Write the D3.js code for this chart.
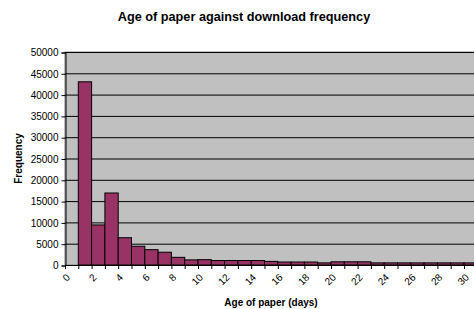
<!DOCTYPE html>
<html lang="en">
<head>
  <meta charset="utf-8">
  <title>Age of paper against download frequency</title>
  <style>
    body { margin: 0; background: #fff; }
    text { font-family: "Liberation Sans", Arial, sans-serif; }
  </style>
  <script src="https://d3js.org/d3.v7.min.js"></script>
</head>
<body>
  <div id="chart"></div>
  <script>
    // age of paper in days (one category per day)
    const ages = d3.range(0, 31);
    // download frequency per age
    const frequency = [0, 43000, 9400, 16900, 6400, 4400, 3600, 3000, 1800, 1200,
      1250, 1050, 1050, 1050, 1050, 850, 700, 700, 700, 500,
      750, 750, 750, 500, 500, 500, 500, 500, 500, 500, 500];
    const yTicks = d3.range(0, 50001, 5000);
    const xLabels = d3.range(0, 31, 2);

    const width = 474, height = 309;
    const plotLeft = 65, plotTop = 52, plotBottom = 265;
    const step = 13.3;

    const svg = d3.select('#chart').append('svg')
      .attr('width', width)
      .attr('height', height);

    const x = d3.scaleBand()
      .domain(ages)
      .range([plotLeft, plotLeft + step * ages.length])
      .padding(0);

    const y = d3.scaleLinear()
      .domain([0, 50000])
      .range([plotBottom, plotTop]);

    // plot area
    svg.append('rect')
      .attr('x', plotLeft).attr('y', plotTop)
      .attr('width', x.range()[1] - plotLeft)
      .attr('height', plotBottom - plotTop)
      .attr('fill', '#c0c0c0')
      .attr('stroke', '#808080');

    // gridlines
    svg.append('g')
      .selectAll('line')
      .data(yTicks.filter(d => d > 0))
      .enter().append('line')
      .attr('x1', plotLeft).attr('x2', x.range()[1])
      .attr('y1', d => y(d) + 0.5).attr('y2', d => y(d) + 0.5)
      .attr('stroke', '#000')
      .attr('stroke-width', 1);

    // bars
    svg.append('g')
      .selectAll('rect')
      .data(ages.filter((d, i) => frequency[i] > 0))
      .enter().append('rect')
      .attr('x', d => x(d))
      .attr('y', d => y(frequency[d]))
      .attr('width', x.bandwidth())
      .attr('height', d => plotBottom - y(frequency[d]))
      .attr('fill', '#993366')
      .attr('stroke', '#000')
      .attr('stroke-width', 1);

    // y axis
    const yAxis = d3.axisLeft(y)
      .tickValues(yTicks)
      .tickFormat(d3.format('d'))
      .tickSize(4)
      .tickPadding(3);
    const gy = svg.append('g')
      .attr('transform', 'translate(' + (plotLeft + 0.5) + ',0.5)')
      .call(yAxis);
    gy.select('.domain').attr('stroke', '#000');
    gy.selectAll('text')
      .attr('font-size', 10)
      .attr('font-family', '"Liberation Sans", Arial, sans-serif')
      .attr('fill', '#000');

    // x axis line + ticks at category boundaries
    const gx = svg.append('g');
    gx.append('line')
      .attr('x1', plotLeft).attr('x2', x.range()[1])
      .attr('y1', plotBottom + 0.5).attr('y2', plotBottom + 0.5)
      .attr('stroke', '#000');
    gx.selectAll('line.tick')
      .data(ages)
      .enter().append('line')
      .attr('class', 'tick')
      .attr('x1', d => x(d) + 0.5).attr('x2', d => x(d) + 0.5)
      .attr('y1', plotBottom).attr('y2', plotBottom + 4)
      .attr('stroke', '#000');

    // rotated category labels
    gx.selectAll('text')
      .data(xLabels)
      .enter().append('text')
      .attr('transform', d => 'translate(' + (x(d) + x.bandwidth() / 2 - 6) + ',' + (plotBottom + 8) + ') rotate(-45)')
      .attr('text-anchor', 'end')
      .attr('dy', '0.7em')
      .attr('font-size', 10)
      .text(d => d);

    // title and axis titles
    svg.append('text')
      .attr('x', 244).attr('y', 21)
      .attr('text-anchor', 'middle')
      .attr('font-size', 12.7)
      .attr('font-weight', 'bold')
      .text('Age of paper against download frequency');

    svg.append('text')
      .attr('x', 271).attr('y', 306)
      .attr('text-anchor', 'middle')
      .attr('font-size', 10)
      .attr('font-weight', 'bold')
      .text('Age of paper (days)');

    svg.append('text')
      .attr('transform', 'translate(22,' + ((plotTop + plotBottom) / 2) + ') rotate(-90)')
      .attr('text-anchor', 'middle')
      .attr('font-size', 10)
      .attr('font-weight', 'bold')
      .text('Frequency');
  </script>
</body>
</html>
